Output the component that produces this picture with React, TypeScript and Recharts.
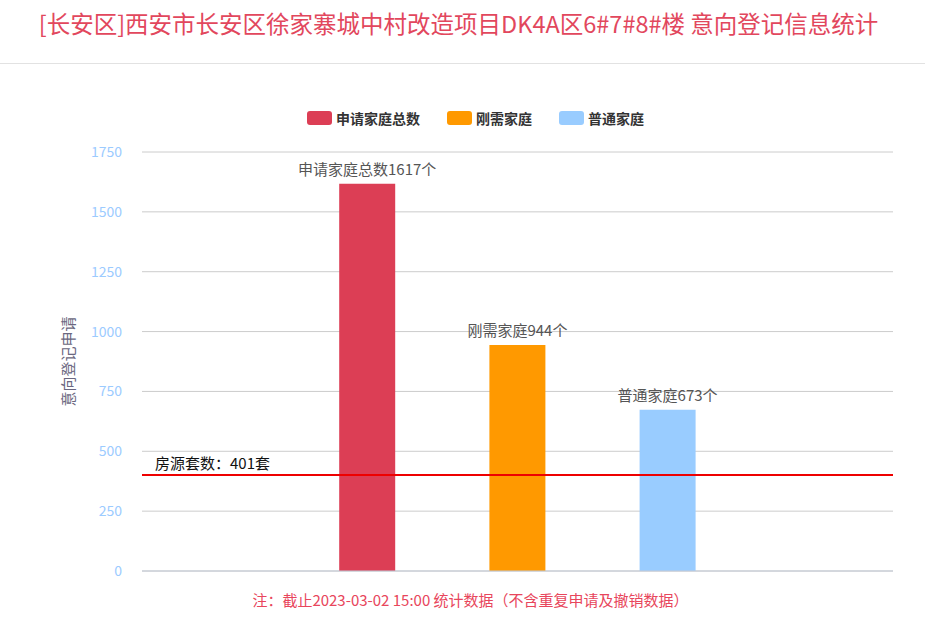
import { Bar, BarChart, CartesianGrid, LabelList, ReferenceLine, XAxis, YAxis } from 'recharts';

const categories = ['', '申请家庭总数', '刚需家庭', '普通家庭', ''];
const seriesNames = ['申请家庭总数', '刚需家庭', '普通家庭'];
const seriesKeys = ['total', 'rigid', 'normal'];
const seriesColors = ['#dc3e55', '#ff9900', '#99ccff'];
const totalValues = [null, 1617, null, null, null];
const rigidValues = [null, null, 944, null, null];
const normalValues = [null, null, null, 673, null];
const yTicks = [0, 250, 500, 750, 1000, 1250, 1500, 1750];
const housingCount = 401;

const FONT = '"Noto Sans CJK SC", "Noto Sans", sans-serif';

const rows = categories.map((c, i) => ({
  name: c,
  total: totalValues[i],
  rigid: rigidValues[i],
  normal: normalValues[i],
}));

// 空值的类目不会调用，value 即本系列的值
const makeLabel = (seriesName: string) => (p: any) => {
  const v = Array.isArray(p.value) ? p.value[1] - p.value[0] : p.value;
  if (v == null || !v) return null;
  const x = Number(p.x) + Number(p.width) / 2;
  const y = Number(p.y);
  return (
    <text x={x} y={y - 9} textAnchor="middle" fill="#555" fontSize={15} fontFamily={FONT}>
      {`${seriesName}${v}个`}
    </text>
  );
};

export default function App() {
  return (
    <div style={{ position: 'absolute', left: 0, top: 0, width: 925, height: 630, background: '#fff', fontFamily: FONT }}>
      <div
        style={{
          position: 'absolute',
          top: 7,
          left: 0,
          width: 925,
          textAlign: 'center',
          fontSize: 23.5,
          color: '#e2475d',
          lineHeight: '32px',
          paddingRight: 8,
          boxSizing: 'border-box',
        }}
      >
        [长安区]西安市长安区徐家寨城中村改造项目DK4A区6#7#8#楼 意向登记信息统计
      </div>
      <div style={{ position: 'absolute', top: 63, left: 0, width: 925, height: 1, background: '#e2e2e2' }} />

      <div
        style={{
          position: 'absolute',
          top: 108,
          left: 0,
          width: 925,
          display: 'flex',
          justifyContent: 'center',
          paddingLeft: 26,
          boxSizing: 'border-box',
          gap: 27,
        }}
      >
        {seriesNames.map((n, i) => (
          <div key={n} style={{ display: 'flex', alignItems: 'center', height: 20 }}>
            <span
              style={{ display: 'inline-block', width: 25, height: 14, borderRadius: 3, background: seriesColors[i], marginRight: 4 }}
            />
            <span style={{ fontSize: 14, fontWeight: 700, color: '#333' }}>{n}</span>
          </div>
        ))}
      </div>

      <div style={{ position: 'absolute', top: 0, left: 0 }}>
        <BarChart width={925} height={630} data={rows} margin={{ top: 152, right: 32, bottom: 58, left: 0 }}>
          <CartesianGrid vertical={false} stroke="#cccccc" />
          <XAxis dataKey="name" tick={false} tickLine={false} height={1} stroke="#c3cad6" />
          <YAxis
            width={142}
            domain={[0, 1750]}
            ticks={yTicks}
            tickLine={false}
            axisLine={false}
            tickSize={0}
            tickMargin={20}
            tick={{ fill: '#9ccbff', fontSize: 14, fontFamily: FONT }}
            label={{
              value: '意向登记申请',
              angle: -90,
              position: 'center',
              dx: -2,
              fill: '#6a6780',
              fontSize: 15,
              fontFamily: FONT,
            }}
          />
          {seriesKeys.map((k, i) => (
            <Bar key={k} dataKey={k} stackId="a" fill={seriesColors[i]} barSize={56} isAnimationActive={false}>
              <LabelList dataKey={k} content={makeLabel(seriesNames[i])} />
            </Bar>
          ))}
          <ReferenceLine
            y={housingCount}
            stroke="#ee0000"
            strokeWidth={2}
            label={(p: any) => (
              <text x={p.viewBox.x + 13} y={p.viewBox.y - 6} fill="#111" fontSize={15} fontFamily={FONT}>
                {`房源套数：${housingCount}套`}
              </text>
            )}
          />
        </BarChart>
      </div>

      <div
        style={{
          position: 'absolute',
          top: 590,
          left: 0,
          width: 925,
          textAlign: 'center',
          fontSize: 15,
          color: '#e8465c',
          paddingLeft: 16,
          boxSizing: 'border-box',
          lineHeight: '20px',
        }}
      >
        注：截止2023-03-02 15:00 统计数据（不含重复申请及撤销数据）
      </div>
    </div>
  );
}
